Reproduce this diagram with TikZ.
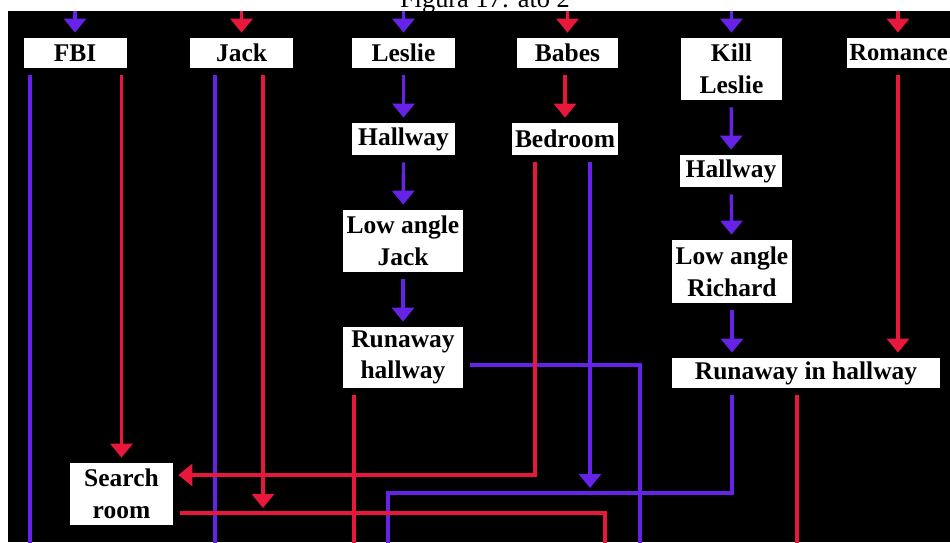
\documentclass[tikz,border=0pt]{standalone}
\usepackage{fontspec}
\setmainfont{Liberation Serif}
\usetikzlibrary{arrows.meta,positioning,calc}
\definecolor{vio}{RGB}{102,34,230}
\definecolor{crim}{RGB}{232,24,60}

\begin{document}
\begin{tikzpicture}[x=0.02cm,y=-0.02cm,
  shot/.style={fill=white,align=center,inner sep=0pt,font=\bfseries\fontsize{14.5}{18}\selectfont},
  sz/.style 2 args={minimum width=#1*0.02cm,minimum height=#2*0.02cm},
  pl/.style={draw=vio,line width=1.8pt},
  rd/.style={draw=crim,line width=1.8pt},
  link/.style={shorten >=0.1cm,shorten <=0.14cm},
  >={Triangle[width=0.44cm,length=0.28cm]}]
% page and black panel
\useasboundingbox (0,0) rectangle (950,542);
\fill[white] (0,0) rectangle (950,542);
\fill[black] (8,11) rectangle (950,542);
\node[anchor=base,font=\fontsize{15}{18}\selectfont] (cap) at (485,7.5) {Figura 17: ato 2};

% shots
\node[shot,sz={103}{30}] (fbi) at (75,53) {FBI};
\node[shot,sz={103}{30}] (jack) at (241.5,53) {Jack};
\node[shot,sz={103}{30}] (leslie) at (403.5,53) {Leslie};
\node[shot,sz={101}{30}] (babes) at (567.5,53) {Babes};
\node[shot,sz={101}{62}] (kill) at (731.5,69) {Kill\\Leslie};
\node[shot,sz={103}{30},font=\bfseries\fontsize{14}{18}\selectfont] (romance) at (898.5,53) {Romance};
\node[shot,sz={103}{32}] (hallA) at (403.5,139) {Hallway};
\node[shot,sz={106}{32}] (bedroom) at (565,139) {Bedroom};
\node[shot,sz={120}{62}] (lowjack) at (403,241) {Low angle\\Jack};
\node[shot,sz={120}{61}] (runhall) at (403,357.5) {Runaway\\hallway};
\node[shot,sz={102}{32}] (hallB) at (731,171) {Hallway};
\node[shot,sz={120}{63}] (lowrich) at (732,271.5) {Low angle\\Richard};
\node[shot,sz={268}{30}] (runin) at (806,373) {Runaway in hallway};
\node[shot,sz={103}{62}] (search) at (121.5,494) {Search\\room};

% free ends
\coordinate (inFbi) at (75,11);
\coordinate (inJack) at (241.5,11);
\coordinate (inLeslie) at (403.5,11);
\coordinate (inBabes) at (567.5,11);
\coordinate (inKill) at (731.5,11);
\coordinate (inRom) at (898,11);
\coordinate (botm) at (0,560);
\coordinate (fbiP) at (30,560);
\coordinate (jackP) at (215,560);
\coordinate (jackHit) at (263,513);
\coordinate (rhBend) at (640,365);
\coordinate (rhR) at (354,560);
\coordinate (bdBend) at (535,475);
\coordinate (bdHit) at (590,493);
\coordinate (riA) at (732,493);
\coordinate (riB) at (388,493);
\coordinate (riR) at (797,560);
\coordinate (srBend) at (605,513);

% incoming
\draw[pl,link,->,shorten <=0pt] (inFbi) -- (fbi);
\draw[rd,link,->,shorten <=0pt] (inJack) -- (jack);
\draw[pl,link,->,shorten <=0pt] (inLeslie) -- (leslie);
\draw[rd,link,->,shorten <=0pt] (inBabes) -- (babes);
\draw[pl,link,->,shorten <=0pt] (inKill) -- (kill);
\draw[rd,link,->,shorten <=0pt] (inRom) -- (inRom |- romance.north);

% chains
\draw[pl,link,->] (leslie) -- (hallA);
\draw[pl,link,->] (hallA) -- (lowjack);
\draw[pl,link,->] (lowjack) -- (runhall);
\draw[rd,link,->] (babes.south -| bedroom.north) -- (bedroom);
\draw[pl,link,->] (kill) -- (hallB);
\draw[pl,link,->] (hallB) -- (lowrich);
\draw[pl,link,->] (lowrich) -- (runin.north -| lowrich.south);
\draw[rd,link,->] (romance.south -| inRom) -- (runin.north -| inRom);

% outgoing
\draw[pl,link] (fbi.south -| fbiP) -- (fbiP);
\draw[rd,link,->] (fbi.south -| search.north) -- (search.north);
\draw[pl,link] (jack.south -| jackP) -- (jackP);
\draw[rd,link,->] (jack.south -| jackHit) -- (jackHit);
\draw[pl,link] (runhall.east |- rhBend) -- (rhBend) -- (rhBend |- botm);
\draw[rd,link] (runhall.south -| rhR) -- (rhR);
\draw[rd,link,->] (bedroom.south -| bdBend) -- (bdBend) -- (search.east |- bdBend);
\draw[pl,link,->] (bedroom.south -| bdHit) -- (bdHit);
\draw[pl,link] (runin.south -| riA) -- (riA) -- (riB) -- (riB |- botm);
\draw[rd,link] (runin.south -| riR) -- (riR);
\draw[rd,link] (search.east |- srBend) -- (srBend) -- (srBend |- botm);
\end{tikzpicture}
\end{document}
